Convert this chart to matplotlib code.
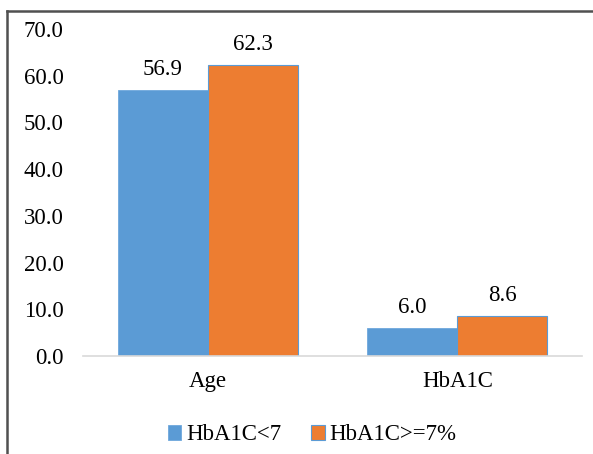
import numpy as np
import matplotlib.pyplot as plt
from matplotlib.lines import Line2D

plt.rcParams['font.family'] = ['Liberation Serif', 'DejaVu Serif']

categories = ['Age', 'HbA1C']
series_names = ['HbA1C<7', 'HbA1C>=7%']
low_vals = [56.9, 6.0]
high_vals = [62.3, 8.6]
yticks = [0, 10, 20, 30, 40, 50, 60, 70]

W, H = 593, 454
fs = 16.5
fig = plt.figure(figsize=(W / 100, H / 100), dpi=100)
ax = fig.add_axes([83 / W, (H - 356) / H, (582 - 83) / W, (356 - 29) / H])

x = np.arange(len(categories))
bw = 0.36
b1 = ax.bar(x - bw / 2, low_vals, bw, color='#5B9BD5', edgecolor='#6FA8DC',
            linewidth=0.6, label=series_names[0])
b2 = ax.bar(x + bw / 2, high_vals, bw, color='#ED7D31', edgecolor='#5B9BD5',
            linewidth=0.8, label=series_names[1])

for bars, vals in [(b1, low_vals), (b2, high_vals)]:
    for rect, v in zip(bars, vals):
        ax.annotate('%.1f' % v, (rect.get_x() + rect.get_width() / 2, v),
                    xytext=(0, 7), textcoords='offset points',
                    ha='center', va='bottom', fontsize=fs)

ax.set_xlim(-0.5, 1.5)
ax.set_ylim(0, 70)
ax.set_yticks(yticks)
ax.set_yticklabels(['%.1f' % t for t in yticks])
ax.set_xticks(x)
ax.set_xticklabels(categories)
ax.tick_params(axis='y', length=0, pad=14, labelsize=fs)
ax.tick_params(axis='x', length=0, pad=11, labelsize=fs)

for s in ['top', 'right', 'left']:
    ax.spines[s].set_visible(False)
ax.spines['bottom'].set_color('#D9D9D9')
ax.spines['bottom'].set_linewidth(1.2)

fig.legend(handles=[b1, b2], loc='center', ncol=2,
           bbox_to_anchor=(312 / W, (H - 435) / H), frameon=False,
           fontsize=fs, handlelength=0.6, handleheight=0.6,
           handletextpad=0.2, columnspacing=1.3)

# outer frame (top and left edges only)
fig.add_artist(Line2D([6.7 / W, 6.7 / W], [0, 1 - 10.5 / H], color='#505050',
                      linewidth=1.8, transform=fig.transFigure))
fig.add_artist(Line2D([6.7 / W, 1], [1 - 10.5 / H, 1 - 10.5 / H], color='#505050',
                      linewidth=1.8, transform=fig.transFigure))

fig.savefig('out.png', dpi=100)
